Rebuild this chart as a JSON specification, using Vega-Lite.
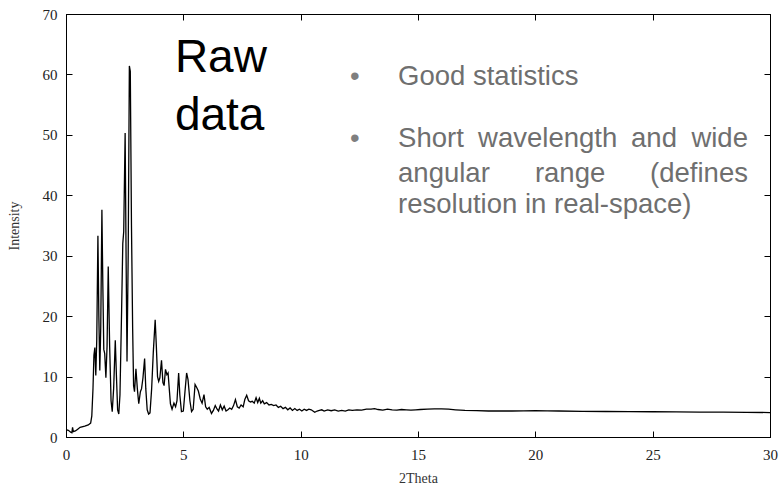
{
  "$schema": "https://vega.github.io/schema/vega-lite/v6.json",
  "width": 704,
  "height": 423,
  "autosize": "none",
  "padding": {"left": 66, "top": 14, "right": 13, "bottom": 52},
  "background": "white",
  "config": {
    "view": {"stroke": "black", "strokeWidth": 1},
    "axis": {"grid": false, "domainColor": "black", "tickColor": "black", "labelColor": "#222", "titleFontWeight": "normal", "titleColor": "#333"}
  },
  "datasets": {
    "xrd": [
      {"t": 0.0, "i": 1.2}, {"t": 0.1, "i": 1.1}, {"t": 0.2, "i": 0.8}, {"t": 0.25, "i": 0.7}, {"t": 0.28, "i": 1.6}, {"t": 0.31, "i": 0.9},
      {"t": 0.4, "i": 1.0}, {"t": 0.5, "i": 1.3}, {"t": 0.6, "i": 1.6}, {"t": 0.8, "i": 1.8}, {"t": 0.95, "i": 2.0}, {"t": 1.05, "i": 2.3},
      {"t": 1.1, "i": 3.5}, {"t": 1.15, "i": 8.0}, {"t": 1.19, "i": 13.5}, {"t": 1.23, "i": 14.8}, {"t": 1.27, "i": 10.2}, {"t": 1.31, "i": 16},
      {"t": 1.36, "i": 33.3}, {"t": 1.4, "i": 20}, {"t": 1.44, "i": 11}, {"t": 1.48, "i": 18}, {"t": 1.53, "i": 37.6}, {"t": 1.57, "i": 25},
      {"t": 1.61, "i": 14.5}, {"t": 1.65, "i": 13.8}, {"t": 1.7, "i": 9.8}, {"t": 1.75, "i": 15}, {"t": 1.8, "i": 28.2}, {"t": 1.86, "i": 15},
      {"t": 1.92, "i": 6}, {"t": 1.97, "i": 4.2}, {"t": 2.03, "i": 8}, {"t": 2.1, "i": 16.0}, {"t": 2.15, "i": 10}, {"t": 2.2, "i": 4.5},
      {"t": 2.25, "i": 3.8}, {"t": 2.3, "i": 7}, {"t": 2.37, "i": 21}, {"t": 2.42, "i": 32}, {"t": 2.46, "i": 34}, {"t": 2.52, "i": 50.3},
      {"t": 2.56, "i": 30}, {"t": 2.6, "i": 12.5}, {"t": 2.65, "i": 30}, {"t": 2.7, "i": 61.4}, {"t": 2.74, "i": 60.5}, {"t": 2.79, "i": 35},
      {"t": 2.84, "i": 18}, {"t": 2.88, "i": 8.5}, {"t": 2.92, "i": 7.5}, {"t": 2.98, "i": 11.3}, {"t": 3.04, "i": 8}, {"t": 3.1, "i": 5.5},
      {"t": 3.17, "i": 7.5}, {"t": 3.22, "i": 8}, {"t": 3.28, "i": 9.8}, {"t": 3.35, "i": 13}, {"t": 3.4, "i": 8}, {"t": 3.46, "i": 4.5},
      {"t": 3.52, "i": 3.8}, {"t": 3.58, "i": 4.0}, {"t": 3.65, "i": 8}, {"t": 3.72, "i": 14}, {"t": 3.8, "i": 19.4}, {"t": 3.85, "i": 15},
      {"t": 3.9, "i": 10}, {"t": 3.95, "i": 9.2}, {"t": 4.0, "i": 9.8}, {"t": 4.07, "i": 12.7}, {"t": 4.13, "i": 9}, {"t": 4.18, "i": 8.5},
      {"t": 4.24, "i": 11.2}, {"t": 4.3, "i": 10.3}, {"t": 4.35, "i": 10.6}, {"t": 4.4, "i": 8}, {"t": 4.45, "i": 5.5}, {"t": 4.52, "i": 4.6},
      {"t": 4.6, "i": 5.6}, {"t": 4.67, "i": 5.0}, {"t": 4.73, "i": 6}, {"t": 4.8, "i": 10.6}, {"t": 4.85, "i": 7}, {"t": 4.92, "i": 4.2},
      {"t": 5.0, "i": 4.3}, {"t": 5.07, "i": 7.5}, {"t": 5.14, "i": 10.6}, {"t": 5.2, "i": 9.5}, {"t": 5.28, "i": 6}, {"t": 5.35, "i": 4.2},
      {"t": 5.42, "i": 4.6}, {"t": 5.5, "i": 8.7}, {"t": 5.57, "i": 8.2}, {"t": 5.64, "i": 7.6}, {"t": 5.72, "i": 6.3}, {"t": 5.8, "i": 5.6},
      {"t": 5.88, "i": 7.0}, {"t": 5.95, "i": 5.0}, {"t": 6.02, "i": 4.6}, {"t": 6.1, "i": 4.9}, {"t": 6.2, "i": 3.9}, {"t": 6.28, "i": 4.4},
      {"t": 6.36, "i": 5.2}, {"t": 6.44, "i": 4.6}, {"t": 6.5, "i": 4.3}, {"t": 6.58, "i": 5.3}, {"t": 6.66, "i": 4.5}, {"t": 6.74, "i": 5.1},
      {"t": 6.82, "i": 4.3}, {"t": 6.9, "i": 4.5}, {"t": 6.98, "i": 4.8}, {"t": 7.06, "i": 4.6}, {"t": 7.14, "i": 5.2}, {"t": 7.22, "i": 6.2},
      {"t": 7.3, "i": 5.0}, {"t": 7.38, "i": 4.8}, {"t": 7.46, "i": 5.3}, {"t": 7.55, "i": 5.0}, {"t": 7.62, "i": 6.2}, {"t": 7.7, "i": 6.9},
      {"t": 7.78, "i": 6.0}, {"t": 7.86, "i": 5.8}, {"t": 7.94, "i": 5.9}, {"t": 8.02, "i": 5.6}, {"t": 8.1, "i": 6.5}, {"t": 8.17, "i": 5.7},
      {"t": 8.24, "i": 6.4}, {"t": 8.3, "i": 5.6}, {"t": 8.38, "i": 6.0}, {"t": 8.45, "i": 5.5}, {"t": 8.55, "i": 5.7}, {"t": 8.65, "i": 5.3},
      {"t": 8.75, "i": 5.4}, {"t": 8.85, "i": 5.2}, {"t": 8.95, "i": 5.3}, {"t": 9.05, "i": 4.9}, {"t": 9.15, "i": 5.1}, {"t": 9.25, "i": 4.7},
      {"t": 9.35, "i": 4.9}, {"t": 9.45, "i": 4.5}, {"t": 9.55, "i": 4.8}, {"t": 9.65, "i": 4.4}, {"t": 9.75, "i": 4.7}, {"t": 9.85, "i": 4.4},
      {"t": 9.95, "i": 4.6}, {"t": 10.05, "i": 4.3}, {"t": 10.15, "i": 4.6}, {"t": 10.25, "i": 4.4}, {"t": 10.35, "i": 4.6}, {"t": 10.45, "i": 4.5},
      {"t": 10.6, "i": 4.1}, {"t": 10.7, "i": 4.3}, {"t": 10.8, "i": 4.4}, {"t": 10.9, "i": 4.5}, {"t": 11.0, "i": 4.3}, {"t": 11.15, "i": 4.5},
      {"t": 11.3, "i": 4.35}, {"t": 11.45, "i": 4.5}, {"t": 11.6, "i": 4.3}, {"t": 11.75, "i": 4.4}, {"t": 11.9, "i": 4.3}, {"t": 12.05, "i": 4.5},
      {"t": 12.2, "i": 4.4}, {"t": 12.4, "i": 4.5}, {"t": 12.6, "i": 4.45}, {"t": 12.8, "i": 4.6}, {"t": 13.0, "i": 4.6}, {"t": 13.15, "i": 4.7},
      {"t": 13.3, "i": 4.55}, {"t": 13.5, "i": 4.45}, {"t": 13.7, "i": 4.6}, {"t": 13.9, "i": 4.5}, {"t": 14.1, "i": 4.45}, {"t": 14.3, "i": 4.55},
      {"t": 14.5, "i": 4.5}, {"t": 14.7, "i": 4.45}, {"t": 14.9, "i": 4.5}, {"t": 15.1, "i": 4.55}, {"t": 15.4, "i": 4.6}, {"t": 15.7, "i": 4.65},
      {"t": 16.0, "i": 4.65}, {"t": 16.3, "i": 4.6}, {"t": 16.6, "i": 4.5}, {"t": 17.0, "i": 4.4}, {"t": 17.5, "i": 4.35}, {"t": 18.0, "i": 4.3},
      {"t": 18.5, "i": 4.3}, {"t": 19.0, "i": 4.3}, {"t": 19.5, "i": 4.32}, {"t": 20.0, "i": 4.35}, {"t": 20.5, "i": 4.33}, {"t": 21.0, "i": 4.3},
      {"t": 22.0, "i": 4.25}, {"t": 23.0, "i": 4.22}, {"t": 24.0, "i": 4.2}, {"t": 25.0, "i": 4.18}, {"t": 26.0, "i": 4.15}, {"t": 27.0, "i": 4.13},
      {"t": 28.0, "i": 4.1}, {"t": 29.0, "i": 4.08}, {"t": 30.0, "i": 4.05}
    ],
    "big": [
      {"x": 4.64, "y": 60.4, "label": "Raw"},
      {"x": 4.64, "y": 50.8, "label": "data"}
    ],
    "bullets": [
      {"x": 12.31, "y": 58.25, "label": "•"},
      {"x": 12.31, "y": 47.99, "label": "•"}
    ],
    "leftText": [
      {"x": 14.15, "y": 58.25, "label": "Good statistics"},
      {"x": 14.15, "y": 47.99, "label": "Short"},
      {"x": 17.56, "y": 47.99, "label": "wavelength"},
      {"x": 24.08, "y": 47.99, "label": "and"},
      {"x": 14.15, "y": 42.2, "label": "angular"},
      {"x": 14.15, "y": 37.07, "label": "resolution in real-space)"}
    ],
    "midText": [
      {"x": 21.48, "y": 42.2, "label": "range"}
    ],
    "rightText": [
      {"x": 29.06, "y": 47.99, "label": "wide"},
      {"x": 29.06, "y": 42.2, "label": "(defines"}
    ]
  },
  "layer": [
    {
      "data": {"name": "xrd"},
      "mark": {"type": "line", "color": "black", "strokeWidth": 1.3, "clip": true},
      "encoding": {
        "x": {"field": "t", "type": "quantitative", "scale": {"domain": [0, 30], "nice": false, "zero": false},
          "axis": {"orient": "bottom", "values": [0, 5, 10, 15, 20, 25, 30], "tickSize": -6, "labelPadding": 16, "labelFlush": false, "labelDx": 3, "labelBound": false, "labelFont": "Liberation Serif", "labelFontSize": 15, "title": "2Theta", "titleFont": "Liberation Serif", "titleFontSize": 14, "titlePadding": 9}},
        "y": {"field": "i", "type": "quantitative", "scale": {"domain": [0, 70], "nice": false},
          "axis": {"orient": "left", "values": [0, 10, 20, 30, 40, 50, 60, 70], "tickSize": -6, "labelPadding": 15, "labelFont": "Liberation Serif", "labelFontSize": 15, "title": "Intensity", "titleFont": "Liberation Serif", "titleFontSize": 14, "titlePadding": 21}}
      }
    },
    {
      "data": {"name": "xrd"},
      "mark": {"type": "line", "opacity": 0},
      "encoding": {
        "x": {"field": "t", "type": "quantitative", "scale": {"domain": [0, 30], "nice": false, "zero": false},
          "axis": {"orient": "top", "values": [0, 5, 10, 15, 20, 25, 30], "tickSize": -6, "labels": false, "title": null}},
        "y": {"field": "i", "type": "quantitative", "scale": {"domain": [0, 70], "nice": false},
          "axis": {"orient": "right", "values": [0, 10, 20, 30, 40, 50, 60, 70], "tickSize": -6, "labels": false, "title": null}}
      }
    },
    {
      "data": {"name": "big"},
      "mark": {"type": "text", "font": "Liberation Sans", "fontSize": 46, "color": "black", "align": "left", "baseline": "alphabetic"},
      "encoding": {
        "x": {"field": "x", "type": "quantitative", "scale": {"domain": [0, 30], "nice": false, "zero": false}, "axis": null},
        "y": {"field": "y", "type": "quantitative", "scale": {"domain": [0, 70], "nice": false}, "axis": null},
        "text": {"field": "label"}
      }
    },
    {
      "data": {"name": "bullets"},
      "mark": {"type": "text", "font": "Liberation Sans", "fontSize": 27.5, "color": "#7f7f7f", "align": "center", "baseline": "alphabetic"},
      "encoding": {
        "x": {"field": "x", "type": "quantitative", "scale": {"domain": [0, 30], "nice": false, "zero": false}, "axis": null},
        "y": {"field": "y", "type": "quantitative", "scale": {"domain": [0, 70], "nice": false}, "axis": null},
        "text": {"field": "label"}
      }
    },
    {
      "data": {"name": "leftText"},
      "mark": {"type": "text", "font": "Liberation Sans", "fontSize": 27.5, "color": "#6f6f6f", "align": "left", "baseline": "alphabetic"},
      "encoding": {
        "x": {"field": "x", "type": "quantitative", "scale": {"domain": [0, 30], "nice": false, "zero": false}, "axis": null},
        "y": {"field": "y", "type": "quantitative", "scale": {"domain": [0, 70], "nice": false}, "axis": null},
        "text": {"field": "label"}
      }
    },
    {
      "data": {"name": "midText"},
      "mark": {"type": "text", "font": "Liberation Sans", "fontSize": 27.5, "color": "#6f6f6f", "align": "center", "baseline": "alphabetic"},
      "encoding": {
        "x": {"field": "x", "type": "quantitative", "scale": {"domain": [0, 30], "nice": false, "zero": false}, "axis": null},
        "y": {"field": "y", "type": "quantitative", "scale": {"domain": [0, 70], "nice": false}, "axis": null},
        "text": {"field": "label"}
      }
    },
    {
      "data": {"name": "rightText"},
      "mark": {"type": "text", "font": "Liberation Sans", "fontSize": 27.5, "color": "#6f6f6f", "align": "right", "baseline": "alphabetic"},
      "encoding": {
        "x": {"field": "x", "type": "quantitative", "scale": {"domain": [0, 30], "nice": false, "zero": false}, "axis": null},
        "y": {"field": "y", "type": "quantitative", "scale": {"domain": [0, 70], "nice": false}, "axis": null},
        "text": {"field": "label"}
      }
    }
  ],
  "resolve": {"axis": {"x": "independent", "y": "independent"}}
}
